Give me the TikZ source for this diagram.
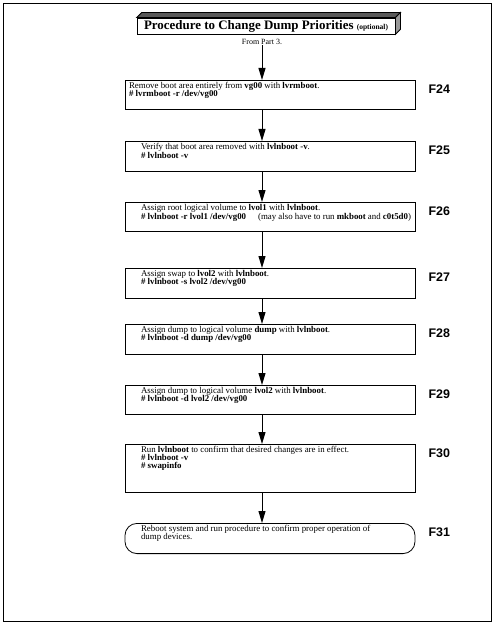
\documentclass[tikz,border=0pt]{standalone}
\usepackage{fontspec}
\setmainfont{Liberation Serif}
\newfontfamily\labelfont{Liberation Sans}
\usetikzlibrary{arrows.meta,positioning}

\tikzset{
  stepbox/.style={draw,line width=0.8bp,anchor=north,inner xsep=4bp,inner ysep=1.5bp,
    font=\fontsize{8.9}{8.2}\selectfont},
  steplabel/.style={anchor=west,inner sep=0pt,font=\labelfont\bfseries\fontsize{12.5}{14}\selectfont},
  flow/.style={line width=1bp,-{Triangle[length=12bp,width=7bp]}},
}
\newcommand{\boxtext}[3][0bp]{\parbox[c][#2][t]{282bp}{\leftskip=#1\relax #3}}

\begin{document}
\begin{tikzpicture}[x=1bp,y=-1bp]
\useasboundingbox (0,0) rectangle (499,626);
\draw[line width=1.3bp] (3.5,3.5) rectangle (491.5,621.5);

% title box
\node[draw,fill=white,line width=0.8bp,minimum width=258bp,minimum height=16bp,inner sep=0pt,
  font=\bfseries\fontsize{13}{15}\selectfont] (title) at (266,26)
  {Procedure to Change Dump Priorities {\fontsize{7.5}{8}\selectfont(optional)}};
\filldraw[fill=black!65,line width=0.8bp] (title.north west) -- ++(5,-5) -- ([shift={(5,-5)}]title.north east) -- (title.north east) -- cycle;
\filldraw[fill=black!40,line width=0.8bp] (title.north east) -- ++(5,-5) -- ([shift={(5,-5)}]title.south east) -- (title.south east) -- cycle;

\node[font=\fontsize{8}{9}\selectfont] (from) at (262,42) {From Part 3.};

% steps
\node[stepbox] (f24) at (270,80) {\boxtext{26.2bp}{Remove boot area entirely from \textbf{vg00} with \textbf{lvrmboot}.\\
  \textbf{\# lvrmboot -r /dev/vg00}}};
\node[stepbox] (f25) at (270,141) {\boxtext[12bp]{27.2bp}{Verify that boot area removed with \textbf{lvlnboot -v}.\\[1bp]
  \textbf{\# lvlnboot -v}}};
\node[stepbox] (f26) at (270,202) {\boxtext[12bp]{26.2bp}{Assign root logical volume to \textbf{lvol1} with \textbf{lvlnboot}.\\[1bp]
  \textbf{\# lvlnboot -r lvol1 /dev/vg00}\hspace{12bp}(may also have to run \textbf{mkboot} and \textbf{c0t5d0})}};
\node[stepbox] (f27) at (270,268) {\boxtext[12bp]{27.2bp}{Assign swap to \textbf{lvol2} with \textbf{lvlnboot}.\\
  \textbf{\# lvlnboot -s lvol2 /dev/vg00}}};
\node[stepbox] (f28) at (270,324) {\boxtext[12bp]{27.2bp}{Assign dump to logical volume \textbf{dump} with \textbf{lvlnboot}.\\
  \textbf{\# lvlnboot -d dump /dev/vg00}}};
\node[stepbox] (f29) at (270,385) {\boxtext[12bp]{26.2bp}{Assign dump to logical volume \textbf{lvol2} with \textbf{lvlnboot}.\\
  \textbf{\# lvlnboot -d lvol2 /dev/vg00}}};
\node[stepbox] (f30) at (270,444) {\boxtext[12bp]{45.2bp}{Run \textbf{lvlnboot} to confirm that desired changes are in effect.\\
  \textbf{\# lvlnboot -v}\\
  \textbf{\# swapinfo}}};
\node[stepbox,rounded corners=12bp] (f31) at (270,523) {\boxtext[12bp]{27.2bp}{Reboot system and run procedure to confirm proper operation of\\
  dump devices.}};

% labels
\foreach \n in {24,...,31}
  \node[steplabel] (l\n) at ([shift={(13,9.5)}]f\n.north east) {F\n};

% arrows
\draw[flow] ([yshift=3bp]from.south) -- (f24.north -| from.south);
\foreach \a/\b in {f24/f25,f25/f26,f26/f27,f27/f28,f28/f29,f29/f30,f30/f31}
  \draw[flow] (\a.south -| from.south) -- (\b.north -| from.south);
\end{tikzpicture}
\end{document}
